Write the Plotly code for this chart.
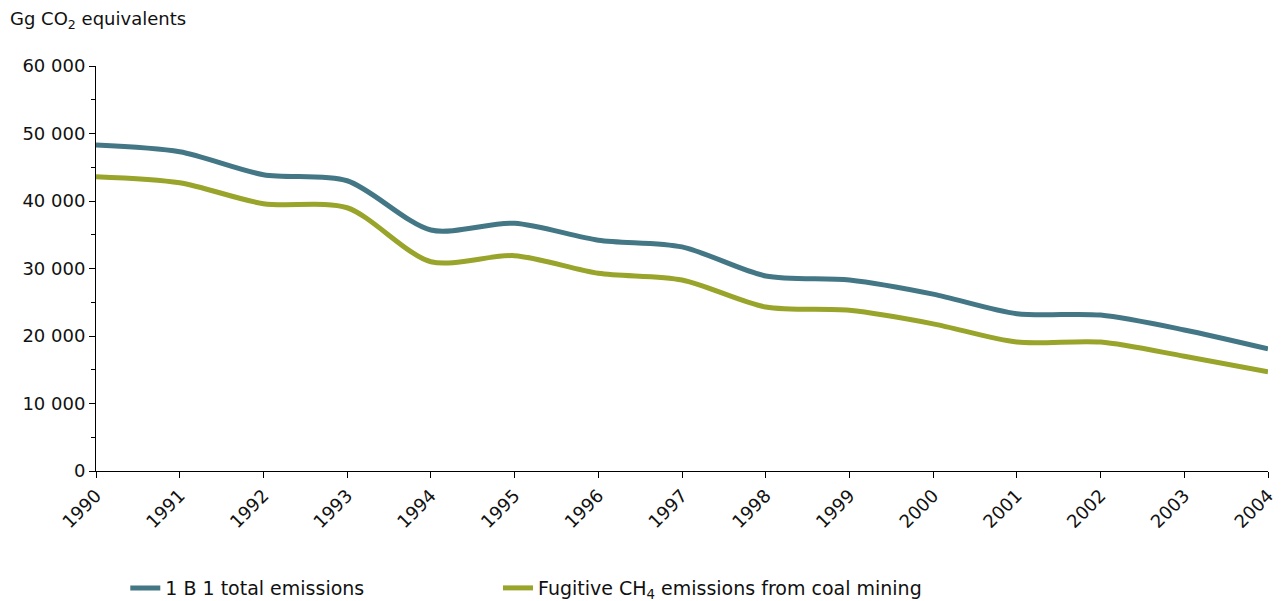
import plotly.graph_objects as go

years = list(range(1990, 2005))
total_1b1 = [48300, 47300, 43900, 43000, 35700, 36700, 34200, 33200, 28900, 28300, 26200, 23300, 23100, 20900, 18100]
fugitive_ch4 = [43600, 42700, 39600, 39000, 31000, 31900, 29300, 28300, 24300, 23800, 21800, 19100, 19100, 17000, 14700]
y_ticks = [0, 10000, 20000, 30000, 40000, 50000, 60000]
y_tick_labels = ["0", "10 000", "20 000", "30 000", "40 000", "50 000", "60 000"]

blue = "#447786"
green = "#98A42A"
FONT = "DejaVu Sans"

fig = go.Figure()
fig.add_trace(go.Scatter(x=years, y=total_1b1, mode="lines", name="1 B 1 total emissions",
                         legend="legend",
                         line=dict(color=blue, width=5, shape="spline", smoothing=0.8)))
fig.add_trace(go.Scatter(x=years, y=fugitive_ch4, mode="lines",
                         name="Fugitive CH<sub>4</sub> emissions from coal mining",
                         legend="legend2",
                         line=dict(color=green, width=5, shape="spline", smoothing=0.8)))

# page body has an 8px margin, so the figure is sized to fit the window
fig.update_layout(
    width=1277, height=593,
    margin=dict(l=88, r=17, t=58, b=130, autoexpand=False),
    paper_bgcolor="white", plot_bgcolor="white",
    font=dict(family=FONT, size=18, color="#111"),
    showlegend=True,
    legend=dict(orientation="h", x=0.025, xanchor="left", y=-0.289, yanchor="middle",
                font=dict(size=19)),
    legend2=dict(orientation="h", x=0.343, xanchor="left", y=-0.289, yanchor="middle",
                 font=dict(size=19)),
    annotations=[dict(text="Gg CO<sub>2</sub> equivalents", xref="paper", yref="paper",
                      x=-0.075, y=1.113, xanchor="left", yanchor="middle",
                      showarrow=False, font=dict(size=18))],
)
fig.update_xaxes(range=[1990, 2004], tickmode="array", tickvals=years,
                 ticktext=[str(y) for y in years], tickangle=-45, automargin=False,
                 showline=True, linecolor="black", linewidth=1, ticks="outside",
                 ticklen=6, tickcolor="black", showgrid=False, zeroline=False)
fig.update_yaxes(range=[0, 60000], tickmode="array", tickvals=y_ticks, ticktext=y_tick_labels,
                 automargin=False,
                 showline=True, linecolor="black", linewidth=1, ticks="outside",
                 ticklen=6, tickcolor="black", showgrid=False, zeroline=False,
                 minor=dict(dtick=5000, ticks="outside", ticklen=4, tickcolor="black"))

fig.write_html("out.html")
